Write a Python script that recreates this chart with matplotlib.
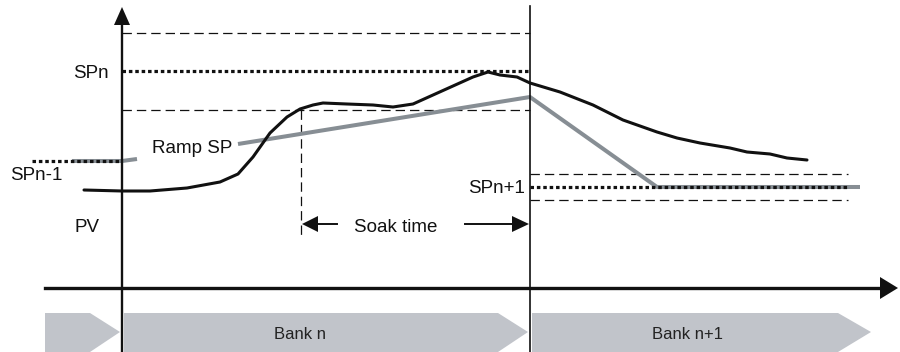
import numpy as np
import matplotlib
matplotlib.use("Agg")
import matplotlib.pyplot as plt

plt.rcParams["font.family"] = ["Liberation Sans", "DejaVu Sans"]

# Diagram laid out in pixel units (x right, y down)

# PV (process value) curve
pv_x = [84, 122, 150, 187, 220, 238, 253, 270, 287, 300, 313, 323, 347, 373, 393,
        413, 433, 453, 473, 488, 500, 517, 530, 560, 593, 623, 657, 677, 700,
        730, 747, 770, 787, 797, 807]
pv_y = [190, 191, 191, 188, 182, 174, 157, 133, 117, 109, 105, 103, 104, 105, 107,
        104, 95, 86, 77, 72, 75, 77, 83, 92, 105, 120, 132, 138, 143,
        148, 152, 154, 158, 159, 160]

# Ramp SP (gap left for its label)
ramp_x = [72, 122, 137, np.nan, 238, 530, 657, 860]
ramp_y = [161, 161, 159, np.nan, 144, 97, 187, 187]

# set point levels
sp_prev = 161
sp_n = 71
sp_n_band = [33, 110]
sp_next = 187
sp_next_band = [174, 200]

# bank boundaries
bank_edges = [45, 122, 530, 873]
bank_names = ["", "Bank n", "Bank n+1"]
bank_label_x = [0, 300, 688]
soak_start = 301

BLACK = "#111111"
GRAY = "#878e94"
BANK = "#c1c4ca"

fig = plt.figure(figsize=(9, 3.52), dpi=100)
ax = fig.add_axes([0, 0, 1, 1])
ax.set_xlim(0, 900)
ax.set_ylim(352, 0)
ax.axis("off")

# bank chevrons
top, mid, bot = 313, 332, 352
for i in range(3):
    x0 = bank_edges[i] + (2 if i > 0 else 0)
    x1 = bank_edges[i + 1] - 2
    k = x1 - 33 if i == 2 else x1 - 30
    ax.fill([x0, k, x1, k, x0], [top, top, mid, bot, bot], color=BANK, lw=0, zorder=1)
    if bank_names[i]:
        ax.text(bank_label_x[i], 339, bank_names[i], ha="center", va="baseline",
                fontsize=12, color="#222222", zorder=2)

# dashed tolerance bands
dash = dict(color=BLACK, lw=0.9, linestyle=(0, (7.5, 4)), zorder=3)
for yb in sp_n_band:
    ax.plot([bank_edges[1], bank_edges[2]], [yb, yb], **dash)
for yb in sp_next_band:
    ax.plot([bank_edges[2], 848], [yb, yb], **dash)
ax.plot([soak_start, soak_start], [sp_n_band[1], 235], **dash)

# ramp set point
ax.plot(ramp_x, ramp_y, color=GRAY, lw=2.9, solid_capstyle="butt", zorder=4)

# dotted set point levels
dot = dict(color=BLACK, lw=2.3, linestyle=(0, (1.1, 0.9)),
           dash_capstyle="butt", zorder=5)
ax.plot([32, bank_edges[1]], [sp_prev, sp_prev], **dot)
ax.plot([bank_edges[1], bank_edges[2]], [sp_n, sp_n], **dot)
ax.plot([bank_edges[2], 847], [sp_next, sp_next], **dot)

# PV curve
ax.plot(pv_x, pv_y, color=BLACK, lw=2.2, solid_joinstyle="round",
        solid_capstyle="round", zorder=6)

# axes with arrow heads
ax.plot([bank_edges[1], bank_edges[1]], [352, 25], color=BLACK, lw=1.7, zorder=7)
ax.fill([114, 130, 122], [25, 25, 7], color=BLACK, lw=0, zorder=7)
ax.plot([45, 881], [288, 288], color=BLACK, lw=2.4, zorder=7)
ax.fill([880, 880, 898], [277, 299, 288], color=BLACK, lw=0, zorder=7)
ax.plot([bank_edges[2], bank_edges[2]], [352, 6], color=BLACK, lw=1.2, zorder=7)

# soak time arrows
ya = 224
ax.plot([316, 337], [ya, ya], color=BLACK, lw=1.4, zorder=7)
ax.fill([318, 318, soak_start + 1], [ya - 8, ya + 8, ya], color=BLACK, lw=0, zorder=7)
ax.plot([465, 514], [ya, ya], color=BLACK, lw=1.4, zorder=7)
ax.fill([512, 512, bank_edges[2] - 1], [ya - 8, ya + 8, ya], color=BLACK, lw=0, zorder=7)

# labels
fs = 13.5
ax.text(73, 78, "SPn", fontsize=fs, color=BLACK, va="baseline", ha="left")
ax.text(152, 153, "Ramp SP", fontsize=fs, color=BLACK, va="baseline", ha="left")
ax.text(10, 180, "SPn-1", fontsize=fs, color=BLACK, va="baseline", ha="left")
ax.text(74, 232, "PV", fontsize=fs, color=BLACK, va="baseline", ha="left")
ax.text(396, 232, "Soak time", fontsize=fs, color=BLACK, va="baseline", ha="center")
ax.text(525, 193, "SPn+1", fontsize=fs, color=BLACK, va="baseline", ha="right")

fig.savefig("out.png", dpi=100)
